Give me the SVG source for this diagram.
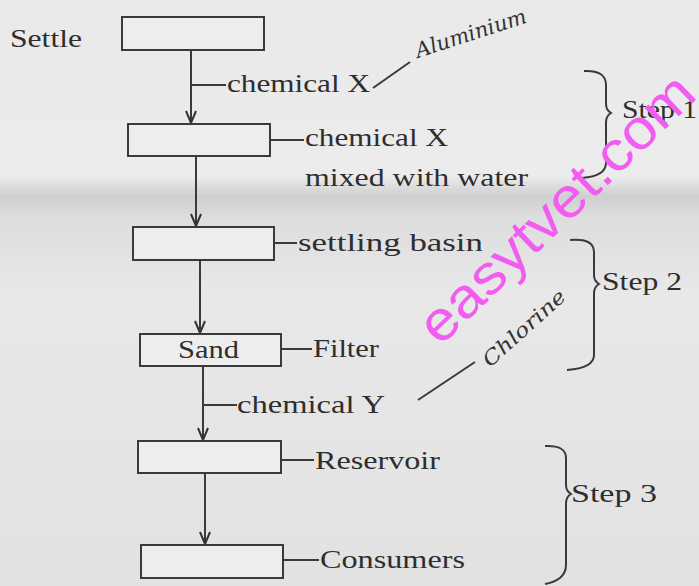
<svg xmlns="http://www.w3.org/2000/svg" width="699" height="586" viewBox="0 0 699 586">
<defs>
<linearGradient id="bg" x1="0" y1="0" x2="0" y2="1">
<stop offset="0" stop-color="#e9e9e9"/>
<stop offset="0.30" stop-color="#ececec"/>
<stop offset="0.335" stop-color="#cfcfcf"/>
<stop offset="0.37" stop-color="#dddddd"/>
<stop offset="0.5" stop-color="#e8e8e8"/>
<stop offset="1" stop-color="#e2e2e2"/>
</linearGradient>
<marker id="arr" markerWidth="14" markerHeight="12" refX="13" refY="6" orient="auto" markerUnits="userSpaceOnUse" viewBox="0 0 14 12">
<polyline points="1,1 13,6 1,11" fill="none" stroke="#333" stroke-width="2"/>
</marker>
</defs>
<style>
.box{fill:#ededed;stroke:#3a3a3a;stroke-width:2}
.ln{stroke:#3a3a3a;stroke-width:2;fill:none}
.t{font-family:"Liberation Serif","Times New Roman",serif;font-size:25px;fill:#2e2e2e}
.hw{font-family:"DejaVu Serif","Liberation Serif",serif;font-style:italic;fill:#333}
.wm{font-family:"Liberation Sans",Arial,sans-serif;font-size:56px;fill:#f35cf0}
</style>
<rect width="699" height="586" fill="url(#bg)"/>

<g id="connectors">
<line class="ln" x1="191" y1="50" x2="191" y2="123" marker-end="url(#arr)"/>
<line class="ln" x1="191" y1="85" x2="226" y2="85"/>
<line class="ln" x1="196" y1="156" x2="196" y2="226" marker-end="url(#arr)"/>
<line class="ln" x1="200" y1="260" x2="200" y2="333" marker-end="url(#arr)"/>
<line class="ln" x1="203" y1="366" x2="203" y2="440" marker-end="url(#arr)"/>
<line class="ln" x1="203" y1="405" x2="237" y2="405"/>
<line class="ln" x1="205" y1="473" x2="205" y2="544" marker-end="url(#arr)"/>
<line class="ln" x1="270" y1="140" x2="304" y2="140"/>
<line class="ln" x1="274" y1="243" x2="297" y2="243"/>
<line class="ln" x1="281" y1="349" x2="312" y2="349"/>
<line class="ln" x1="281" y1="460" x2="314" y2="460"/>
<line class="ln" x1="283" y1="560" x2="319" y2="560"/>
</g>

<g id="settle">
<rect class="box" x="122" y="17" width="142" height="33"/>
<text class="t" x="10" y="47" textLength="72" lengthAdjust="spacingAndGlyphs">Settle</text>
</g>
<text class="t" x="227" y="92" textLength="143" lengthAdjust="spacingAndGlyphs">chemical X</text>

<g id="mix">
<rect class="box" x="128" y="124" width="142" height="32"/>
<text class="t" x="305" y="146" textLength="143" lengthAdjust="spacingAndGlyphs">chemical X</text>
<text class="t" x="305" y="186" textLength="223" lengthAdjust="spacingAndGlyphs">mixed with water</text>
</g>

<g id="settling">
<rect class="box" x="133" y="227" width="141" height="33"/>
<text class="t" x="298" y="251" textLength="185" lengthAdjust="spacingAndGlyphs">settling basin</text>
</g>

<g id="filter">
<rect class="box" x="140" y="334" width="141" height="32"/>
<text class="t" x="178" y="358" textLength="61" lengthAdjust="spacingAndGlyphs">Sand</text>
<text class="t" x="313" y="357" textLength="66" lengthAdjust="spacingAndGlyphs">Filter</text>
</g>
<text class="t" x="237" y="413" textLength="148" lengthAdjust="spacingAndGlyphs">chemical Y</text>

<g id="reservoir">
<rect class="box" x="138" y="441" width="143" height="32"/>
<text class="t" x="315" y="469" textLength="125" lengthAdjust="spacingAndGlyphs">Reservoir</text>
</g>

<g id="consumers">
<rect class="box" x="141" y="545" width="142" height="33"/>
<text class="t" x="320" y="568" textLength="145" lengthAdjust="spacingAndGlyphs">Consumers</text>
</g>

<g id="braces">
<path class="ln" d="M584,71 Q606,70 606,85 L606,104 Q606,110 611,113 Q606,116 606,122 L606,163 Q606,176 582,178" stroke-width="1.8"/>
<text class="t" x="622" y="118" textLength="75" lengthAdjust="spacingAndGlyphs">Step 1</text>
<path class="ln" d="M570,240 Q594,238 594,252 L594,275 Q594,281 599,284 Q594,287 594,293 L594,355 Q594,368 567,370" stroke-width="1.8"/>
<text class="t" x="602" y="290" textLength="80" lengthAdjust="spacingAndGlyphs">Step 2</text>
<path class="ln" d="M545,446 Q566,445 566,458 L566,485 Q566,491 571,494 Q566,497 566,503 L566,565 Q566,580 545,584" stroke-width="1.8"/>
<text class="t" x="571" y="502" textLength="86" lengthAdjust="spacingAndGlyphs">Step 3</text>
</g>

<g id="annotations">
<line class="ln" x1="373" y1="88" x2="410" y2="62" stroke-width="1.5"/>
<text class="hw" x="418" y="58" font-size="21" transform="rotate(-18 418 58)">Aluminium</text>
<line class="ln" x1="418" y1="400" x2="475" y2="362" stroke-width="1.5"/>
<text class="hw" x="490" y="368" font-size="20" textLength="104" lengthAdjust="spacingAndGlyphs" transform="rotate(-42 490 368)">Chlorine</text>
</g>

<text class="wm" x="440" y="347" textLength="360" lengthAdjust="spacingAndGlyphs" transform="rotate(-44 440 347)">easytvet.com</text>
</svg>
